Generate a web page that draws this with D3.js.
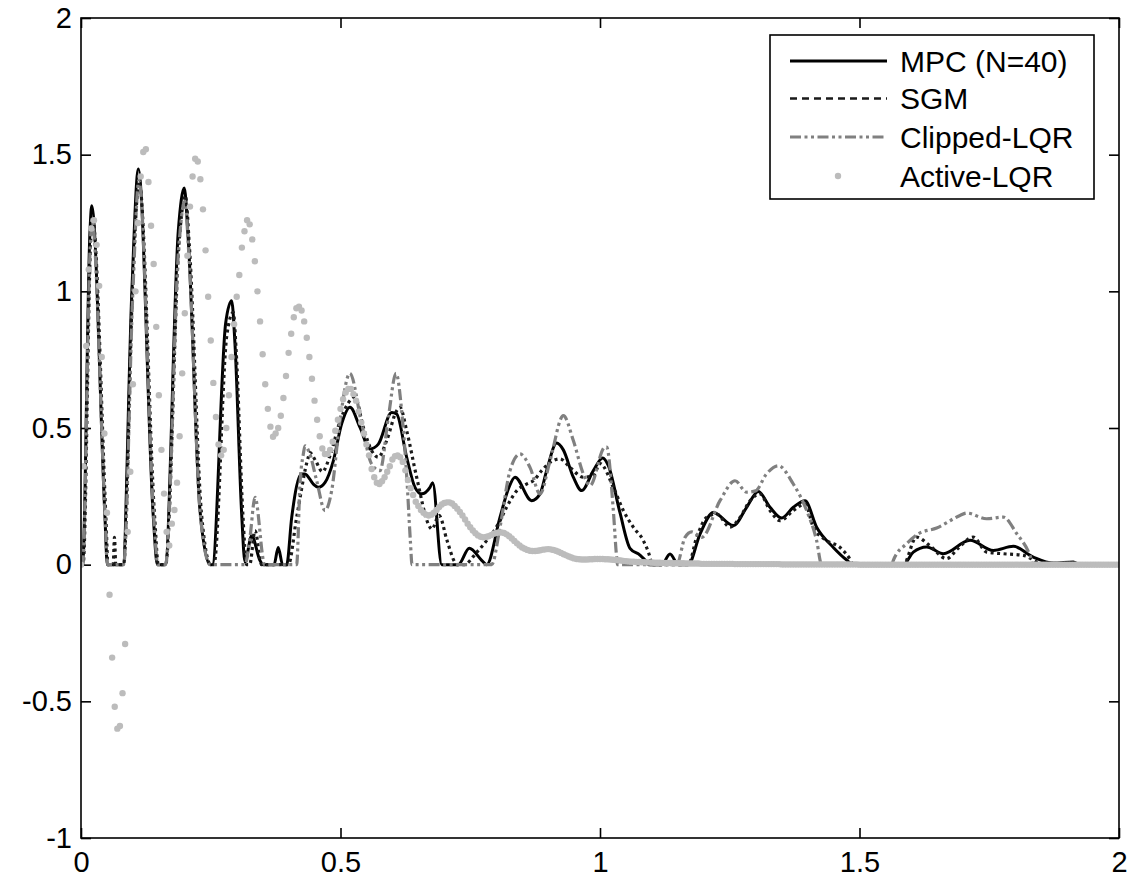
<!DOCTYPE html>
<html>
<head>
<meta charset="utf-8">
<script src="https://cdn.jsdelivr.net/npm/d3@7"></script>
<style>
  body { margin: 0; background: #fff; }
  svg { display: block; font-family: "Liberation Sans", Arial, sans-serif; }
</style>
</head>
<body>
<svg width="1131" height="883"></svg>
<script>
// axis ticks
const xTicks = [0, 0.5, 1, 1.5, 2];
const xTickLabels = ["0", "0.5", "1", "1.5", "2"];
const yTicks = [-1, -0.5, 0, 0.5, 1, 1.5, 2];
const yTickLabels = ["-1", "-0.5", "0", "0.5", "1", "1.5", "2"];

const seriesNames = ["MPC (N=40)", "SGM", "Clipped-LQR", "Active-LQR"];

// MPC (N=40)
const mpcT = [0, 0.003, 0.0173, 0.0206, 0.0462, 0.0507, 0.0805, 0.098, 0.1105, 0.1394, 0.147, 0.162,
  0.1875, 0.199, 0.2068, 0.2293, 0.2486, 0.253, 0.2787, 0.2903, 0.2967, 0.3096, 0.316, 0.3288, 0.3449,
  0.3513, 0.372, 0.38, 0.3885, 0.3963, 0.406, 0.425, 0.4316, 0.4476, 0.4573, 0.47, 0.4862, 0.5022,
  0.5183, 0.5376, 0.5568, 0.5729, 0.5986, 0.6082, 0.6275, 0.6435, 0.6564, 0.6724, 0.6776, 0.695,
  0.727, 0.7482, 0.772, 0.7816, 0.8073, 0.8234, 0.8362, 0.8683, 0.8844, 0.8972, 0.9165, 0.9293,
  0.9486, 0.9647, 0.9872, 1.0052, 1.0161, 1.0385, 1.0578, 1.077, 1.0899, 1.0935, 1.1188, 1.1349,
  1.151, 1.17, 1.1927, 1.2184, 1.257, 1.2826, 1.3051, 1.3276, 1.35, 1.3725, 1.395, 1.4174, 1.4496,
  1.4753, 1.488, 1.5845, 1.6037, 1.6294, 1.6615, 1.7129, 1.7579, 1.7964, 1.8349, 1.8735, 1.9121,
  1.924, 2];
const mpcV = [0, 0, 1.22, 1.313, 0.173, 0, 0, 1.0, 1.448, 0.173, 0, 0,
  1.222, 1.378, 1.185, 0.198, 0, 0, 0.883, 0.966, 0.807, 0.185, 0.01, 0.106, 0.015,
  0, 0, 0.063, 0, 0, 0.173, 0.332, 0.332, 0.295, 0.283, 0.30, 0.38, 0.515,
  0.576, 0.502, 0.423, 0.441, 0.557, 0.551, 0.393, 0.283, 0.259, 0.283, 0.30, 0,
  0, 0.06, 0.016, 0, 0.173, 0.277, 0.32, 0.234, 0.259, 0.344, 0.445, 0.42,
  0.32, 0.271, 0.344, 0.39, 0.362, 0.19, 0.06, 0.035, 0.01, 0, 0, 0.039,
  0, 0, 0.112, 0.191, 0.143, 0.21, 0.268, 0.21, 0.171, 0.21, 0.234, 0.137, 0.063,
  0.017, 0, 0, 0.046, 0.065, 0.04, 0.089, 0.052, 0.067, 0.028, 0.006, 0.01,
  0, 0];

// SGM
const sgmT = [0, 0.004, 0.019, 0.022, 0.048, 0.052, 0.062, 0.0645, 0.067, 0.082, 0.1, 0.112, 0.142,
  0.149, 0.163, 0.189, 0.201, 0.209, 0.232, 0.25, 0.256, 0.281, 0.2935, 0.299, 0.312, 0.319, 0.325,
  0.3353, 0.348, 0.3995, 0.4155, 0.4379, 0.441, 0.452, 0.465, 0.48, 0.5, 0.5281, 0.5441, 0.5601,
  0.5729, 0.589, 0.6082, 0.6146, 0.6275, 0.6467, 0.6692, 0.676, 0.69, 0.705, 0.72, 0.725, 0.738,
  0.7624, 0.7816, 0.804, 0.82, 0.8394, 0.8587, 0.8715, 0.8876, 0.9037, 0.9229, 0.9422, 0.9679,
  0.9872, 1.0, 1.0257, 1.045, 1.0642, 1.0835, 1.0963, 1.1, 1.17, 1.1863, 1.2056, 1.2248, 1.2505,
  1.2698, 1.2891, 1.3083, 1.3276, 1.347, 1.3725, 1.395, 1.411, 1.437, 1.4625, 1.4817, 1.488,
  1.5845, 1.6096, 1.635, 1.6679, 1.69, 1.719, 1.745, 1.777, 1.8157, 1.8414, 1.85, 2];
const sgmV = [0, 0, 1.2, 1.27, 0.17, 0, 0, 0.1, 0, 0, 1.05, 1.40, 0.17,
  0, 0, 1.18, 1.35, 1.16, 0.19, 0, 0, 0.84, 0.923, 0.78, 0.18, 0, 0,
  0.124, 0, 0, 0.173, 0.393, 0.41, 0.38, 0.34, 0.40, 0.53, 0.612, 0.502, 0.417,
  0.393, 0.454, 0.563, 0.576, 0.49, 0.32, 0.149, 0.13, 0.18, 0.09, 0.01, 0, 0,
  0.045, 0.088, 0.149, 0.21, 0.27, 0.295, 0.307, 0.344, 0.374, 0.387, 0.356, 0.32,
  0.326, 0.37, 0.283, 0.198, 0.137, 0.088, 0.027, 0, 0, 0.1, 0.173, 0.185, 0.137,
  0.173, 0.234, 0.259, 0.198, 0.161, 0.198, 0.222, 0.137, 0.088, 0.063, 0.02, 0,
  0, 0.101, 0.07, 0.022, 0.06, 0.101, 0.046, 0.04, 0.034, 0.01, 0, 0];

// Clipped-LQR
const clipT = [0, 0.003, 0.0175, 0.021, 0.047, 0.051, 0.082, 0.1, 0.1115, 0.141, 0.148, 0.163, 0.188,
  0.2, 0.208, 0.23, 0.249, 0.316, 0.3256, 0.3353, 0.3513, 0.353, 0.4155, 0.4219, 0.4284, 0.4316,
  0.44, 0.4541, 0.4701, 0.483, 0.499, 0.518, 0.5408, 0.5601, 0.5761, 0.5922, 0.607, 0.6185, 0.6281,
  0.6346, 0.6378, 0.7912, 0.8073, 0.8266, 0.8459, 0.8651, 0.8844, 0.9037, 0.9294, 0.9486, 0.9679,
  0.9807, 1.0096, 1.0128, 1.0257, 1.0321, 1.034, 1.1478, 1.1638, 1.1767, 1.1959, 1.2312, 1.2601,
  1.2826, 1.30, 1.32, 1.3436, 1.3725, 1.3982, 1.4174, 1.4271, 1.562, 1.5652, 1.5909, 1.6134,
  1.6487, 1.6936, 1.7065, 1.745, 1.7771, 1.8028, 1.8285, 1.8349, 2];
const clipV = [0, 0, 1.15, 1.265, 0.15, 0, 0, 1.0, 1.405, 0.15, 0, 0, 1.15,
  1.33, 1.13, 0.18, 0, 0, 0.1, 0.246, 0.015, 0, 0, 0.295, 0.405, 0.435,
  0.41, 0.307, 0.198, 0.271, 0.527, 0.70, 0.515, 0.368, 0.344, 0.539, 0.70, 0.55, 0.307,
  0.088, 0, 0, 0.137, 0.344, 0.405, 0.356, 0.259, 0.38, 0.545, 0.454, 0.332,
  0.289, 0.43, 0.43, 0.198, 0.027, 0, 0, 0.1, 0.12, 0.1, 0.234, 0.307,
  0.265, 0.27, 0.33, 0.362, 0.295, 0.198, 0.088, 0, 0, 0.016, 0.077, 0.113,
  0.134, 0.18, 0.189, 0.168, 0.174, 0.114, 0.034, 0, 0];

// Active-LQR, one sample every 0.005 s from 0 to 2
const activeStep = 0.005;
const activeV = [
  0, 0.36, 0.80, 1.08, 1.23, 1.26, 1.17, 1.02, 0.76, 0.48,
  0.19, -0.11, -0.34, -0.52, -0.60, -0.59, -0.47, -0.29, 0.12, 0.34,
  0.66, 1.00, 1.25, 1.42, 1.51, 1.52, 1.40, 1.24, 1.10, 0.87,
  0.62, 0.42, 0.26, 0.12, 0.07, 0.15, 0.20, 0.30, 0.47, 0.70,
  0.92, 1.13, 1.31, 1.42, 1.485, 1.475, 1.41, 1.30, 1.15, 0.98,
  0.82, 0.665, 0.54, 0.44, 0.40, 0.42, 0.50, 0.62, 0.76, 0.88,
  0.98, 1.06, 1.16, 1.22, 1.26, 1.245, 1.19, 1.11, 1.00, 0.89,
  0.77, 0.66, 0.57, 0.505, 0.468, 0.48, 0.50, 0.545, 0.61, 0.69,
  0.775, 0.845, 0.905, 0.938, 0.944, 0.93, 0.89, 0.83, 0.76, 0.68,
  0.60, 0.53, 0.47, 0.425, 0.405, 0.405, 0.42, 0.45, 0.49, 0.53,
  0.57, 0.605, 0.63, 0.643, 0.643, 0.624, 0.60, 0.56, 0.52, 0.48,
  0.44, 0.40, 0.35, 0.32, 0.30, 0.295, 0.305, 0.32, 0.34, 0.36,
  0.385, 0.397, 0.40, 0.393, 0.376, 0.345, 0.31, 0.28, 0.255, 0.23,
  0.215, 0.20, 0.19, 0.183, 0.18, 0.183, 0.19, 0.20, 0.21, 0.22,
  0.226, 0.228, 0.228, 0.224, 0.215, 0.205, 0.193, 0.18, 0.165, 0.15,
  0.137, 0.125, 0.115, 0.107, 0.102, 0.10, 0.101, 0.104, 0.108, 0.113,
  0.116, 0.118, 0.118, 0.116, 0.111, 0.104, 0.096, 0.087, 0.078, 0.07,
  0.063, 0.058, 0.054, 0.051, 0.05, 0.05, 0.051, 0.053, 0.055, 0.056,
  0.057, 0.056, 0.054, 0.051, 0.047, 0.043, 0.038, 0.034, 0.03, 0.026,
  0.023, 0.021, 0.02, 0.019, 0.019, 0.019, 0.02, 0.02, 0.021, 0.021,
  0.021, 0.021, 0.02, 0.02, 0.019, 0.018, 0.017, 0.016, 0.015, 0.014,
  0.013, 0.012, 0.011, 0.011, 0.01, 0.01, 0.009, 0.009, 0.008, 0.008,
  0.008, 0.007, 0.007, 0.007, 0.006, 0.006, 0.006, 0.006, 0.005, 0.005,
  0.005, 0.005, 0.005, 0.004, 0.004, 0.004, 0.004, 0.004, 0.004, 0.003,
  0.003, 0.003, 0.003, 0.003, 0.003, 0.003, 0.003, 0.003, 0.003, 0.003,
  0.003, 0.003, 0.002, 0.002, 0.002, 0.002, 0.002, 0.002, 0.002, 0.002,
  0.002, 0.002, 0.002, 0.002, 0.002, 0.002, 0.002, 0.002, 0.002, 0.002,
  0.001, 0.001, 0.001, 0.001, 0.001, 0.001, 0.001, 0.001, 0.001, 0.001,
  0.001, 0.001, 0.001, 0.001, 0.001, 0.001, 0.001, 0.001, 0.001, 0.001,
  0.001, 0.001, 0.001, 0.001, 0.001, 0.001, 0.001, 0.001, 0.001, 0.001,
  0, 0, 0, 0, 0, 0, 0, 0, 0, 0,
  0, 0, 0, 0, 0, 0, 0, 0, 0, 0,
  0, 0, 0, 0, 0, 0, 0, 0, 0, 0,
  0, 0, 0, 0, 0, 0, 0, 0, 0, 0,
  0, 0, 0, 0, 0, 0, 0, 0, 0, 0,
  0, 0, 0, 0, 0, 0, 0, 0, 0, 0,
  0, 0, 0, 0, 0, 0, 0, 0, 0, 0,
  0, 0, 0, 0, 0, 0, 0, 0, 0, 0,
  0, 0, 0, 0, 0, 0, 0, 0, 0, 0,
  0, 0, 0, 0, 0, 0, 0, 0, 0, 0,
  0
];

const svg = d3.select("svg");

const margin = { top: 18, right: 12, bottom: 45, left: 81 };
const width = +svg.attr("width") - margin.left - margin.right;
const height = +svg.attr("height") - margin.top - margin.bottom;

const x = d3.scaleLinear().domain([0, 2]).range([0, width]);
const y = d3.scaleLinear().domain([-1, 2]).range([height, 0]);

const g = svg.append("g")
    .attr("transform", "translate(" + margin.left + "," + margin.top + ")");

g.append("clipPath").attr("id", "plot-clip")
  .append("rect").attr("width", width).attr("height", height);

const fontSize = 29;

// axes with inward ticks, mirrored on top and right
g.append("g")
    .attr("transform", "translate(0," + height + ")")
    .call(d3.axisBottom(x).tickValues(xTicks).tickSize(-10).tickPadding(13)
      .tickFormat((d, i) => xTickLabels[i]));
g.append("g")
    .call(d3.axisLeft(y).tickValues(yTicks).tickSize(-10).tickPadding(9)
      .tickFormat((d, i) => yTickLabels[i]));
g.append("g")
    .call(d3.axisTop(x).tickValues(xTicks).tickSize(-10).tickFormat(""));
g.append("g")
    .attr("transform", "translate(" + width + ",0)")
    .call(d3.axisRight(y).tickValues(yTicks).tickSize(-10).tickFormat(""));

g.selectAll(".domain").remove();
g.selectAll(".tick line").attr("stroke", "#000").attr("stroke-width", 1.6);
g.selectAll(".tick text")
    .attr("fill", "#000")
    .style("font-size", fontSize + "px")
    .style("font-family", "Liberation Sans, Arial, sans-serif");

const line = d3.line().curve(d3.curveMonotoneX).x(d => x(d[0])).y(d => y(d[1]));
const plot = g.append("g").attr("clip-path", "url(#plot-clip)");

// MPC
plot.append("path")
    .datum(d3.zip(mpcT, mpcV))
    .attr("fill", "none")
    .attr("stroke", "#000")
    .attr("stroke-width", 3)
    .attr("d", line);

// SGM
plot.append("path")
    .datum(d3.zip(sgmT, sgmV))
    .attr("fill", "none")
    .attr("stroke", "#1a1a1a")
    .attr("stroke-width", 3.2)
    .attr("stroke-dasharray", "3,3.5")
    .attr("d", line);

// Clipped-LQR
plot.append("path")
    .datum(d3.zip(clipT, clipV))
    .attr("fill", "none")
    .attr("stroke", "#808080")
    .attr("stroke-width", 3.2)
    .attr("stroke-dasharray", "11,3.5,3,3.5,3,3.5")
    .attr("d", line);

// Active-LQR dots
plot.selectAll(".dot")
    .data(activeV)
    .enter().append("circle")
      .attr("class", "dot")
      .attr("cx", (d, i) => x(i * activeStep))
      .attr("cy", d => y(d))
      .attr("r", 3.2)
      .attr("fill", "#bcbcbc");

// frame
g.append("rect")
    .attr("width", width)
    .attr("height", height)
    .attr("fill", "none")
    .attr("stroke", "#000")
    .attr("stroke-width", 1.6);

// legend
const legend = svg.append("g").attr("transform", "translate(770,35)");
legend.append("rect")
    .attr("width", 324)
    .attr("height", 164)
    .attr("fill", "#fff")
    .attr("stroke", "#000")
    .attr("stroke-width", 1.6);

const rowY = [26, 63.5, 102, 141];
const styles = [
  { stroke: "#000", width: 3, dash: null },
  { stroke: "#1a1a1a", width: 2.6, dash: "7,5" },
  { stroke: "#808080", width: 3, dash: "11,3.5,3,3.5,3,3.5" }
];

styles.forEach((s, i) => {
  legend.append("line")
      .attr("x1", 20).attr("x2", 117)
      .attr("y1", rowY[i]).attr("y2", rowY[i])
      .attr("stroke", s.stroke)
      .attr("stroke-width", s.width)
      .attr("stroke-dasharray", s.dash);
});
legend.append("circle")
    .attr("cx", 68).attr("cy", rowY[3])
    .attr("r", 3.2)
    .attr("fill", "#bcbcbc");

legend.selectAll(".label")
    .data(seriesNames)
    .enter().append("text")
      .attr("class", "label")
      .attr("x", 130)
      .attr("y", (d, i) => rowY[i])
      .attr("dy", "0.36em")
      .style("font-size", "30px")
      .text(d => d);
</script>
</body>
</html>
